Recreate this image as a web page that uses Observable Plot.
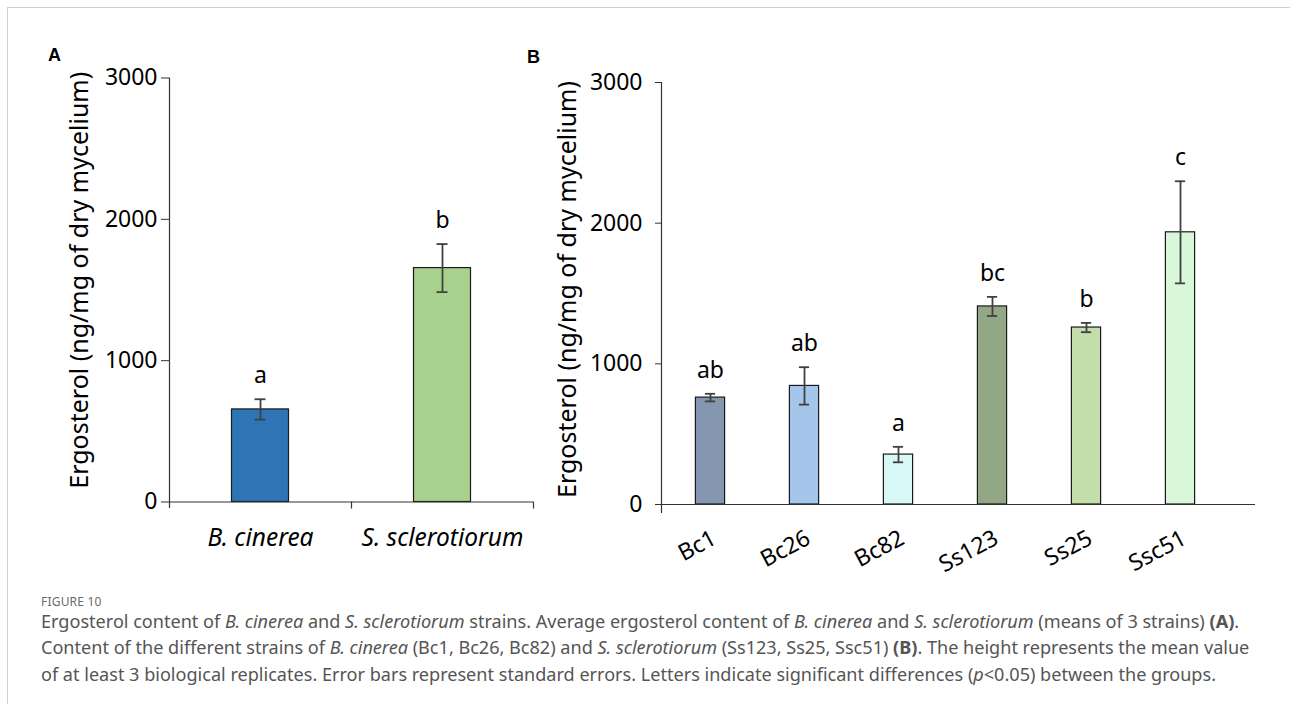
<!DOCTYPE html>
<html>
<head>
<meta charset="utf-8">
<script src="https://cdn.jsdelivr.net/npm/d3@7"></script>
<script src="https://cdn.jsdelivr.net/npm/@observablehq/plot@0.6"></script>
<style>
  html, body { margin: 0; padding: 0; background: #fff; }
  body { width: 1290px; height: 704px; position: relative; overflow: hidden; font-family: "Noto Sans", sans-serif; }
  #border { position: absolute; left: 7px; top: 7px; width: 1320px; height: 740px; border: 1px solid #cfcfcf; box-sizing: border-box; }
  #panelA { position: absolute; left: 0; top: 0; }
  #panelB { position: absolute; left: 540px; top: 0; }
  .plabel { position: absolute; font-family: "Liberation Sans", Arial, sans-serif; font-weight: bold; font-size: 18px; line-height: 18px; color: #000; }
  .cap { position: absolute; left: 41px; white-space: nowrap; color: #555; line-height: 20px; }
  #fig { font-size: 12px; color: #6a6a6a; letter-spacing: 0.2px; }
  .line { font-size: 15.5px; }
</style>
</head>
<body>
<div id="border"></div>
<div class="plabel" style="left:48px; top:46px;">A</div>
<div class="plabel" style="left:527px; top:48px;">B</div>
<div id="panelA"></div>
<div id="panelB"></div>
<div class="cap" id="fig" style="top:592px;">FIGURE 10</div>
<div class="cap line" id="l1" style="top:611px;">Ergosterol content of <i>B. cinerea</i> and <i>S. sclerotiorum</i> strains. Average ergosterol content of <i>B. cinerea</i> and <i>S. sclerotiorum</i> (means of 3 strains) <b>(A)</b>.</div>
<div class="cap line" id="l2" style="top:637px;">Content of the different strains of <i>B. cinerea</i> (Bc1, Bc26, Bc82) and <i>S. sclerotiorum</i> (Ss123, Ss25, Ssc51) <b>(B)</b>. The height represents the mean value</div>
<div class="cap line" id="l3" style="top:664px;">of at least 3 biological replicates. Error bars represent standard errors. Letters indicate significant differences (<i>p</i>&lt;0.05) between the groups.</div>
<script>
// ---- Data ----
const speciesA = ["B. cinerea", "S. sclerotiorum"];
const meanA = [655, 1655];
const seA = [72, 170];
const lettersA = ["a", "b"];
const colorsA = ["#2E75B6", "#A9D18E"];

const strainsB = ["Bc1", "Bc26", "Bc82", "Ss123", "Ss25", "Ssc51"];
const meanB = [760, 843, 355, 1408, 1258, 1935];
const seB = [27, 133, 55, 68, 33, 363];
const lettersB = ["ab", "ab", "a", "bc", "b", "c"];
const colorsB = ["#8496B0", "#A4C6EA", "#D8F8F8", "#93A686", "#C3DEAB", "#D9F8DA"];

const yTicks = [0, 1000, 2000, 3000];
const yLabel = "Ergosterol (ng/mg of dry mycelium)";

const rowsA = speciesA.map((c, i) => ({cat: c, mean: meanA[i], se: seA[i], letter: lettersA[i]}));
const rowsB = strainsB.map((c, i) => ({cat: c, mean: meanB[i], se: seB[i], letter: lettersB[i]}));

const font = "Noto Sans";
const errColor = "#404040";
const fmt = d3.format("d");

// ---- Panel A ----
{
  const W = 540, H = 560, mL = 169, mR = 7, mT = 77.5, mB = 53;
  const step = (W - mL - mR) / speciesA.length;
  const barInset = (step - 57) / 2;
  const capInset = (step - 11) / 2;
  const chart = Plot.plot({
    width: W, height: H,
    marginLeft: mL, marginRight: mR, marginTop: mT, marginBottom: mB,
    x: {domain: speciesA, padding: 0},
    y: {domain: [0, 3000], range: [501.5, 77.5]},
    color: {domain: speciesA, range: colorsA},
    style: {fontFamily: font, color: "#000", background: "transparent", overflow: "visible"},
    marks: [
      Plot.barY(rowsA, {x: "cat", y: "mean", fill: "cat", stroke: "#1a1a1a", strokeWidth: 1.2, insetLeft: barInset, insetRight: barInset}),
      Plot.ruleX(rowsA, {x: "cat", y1: d => d.mean - d.se, y2: d => d.mean + d.se, stroke: errColor, strokeWidth: 1.8}),
      Plot.tickY(rowsA, {x: "cat", y: d => d.mean + d.se, stroke: errColor, strokeWidth: 1.8, insetLeft: capInset, insetRight: capInset}),
      Plot.tickY(rowsA, {x: "cat", y: d => d.mean - d.se, stroke: errColor, strokeWidth: 1.8, insetLeft: capInset, insetRight: capInset}),
      Plot.frame({anchor: "left", stroke: "#333", strokeWidth: 1.2}),
      Plot.ruleY([0], {stroke: "#333", strokeWidth: 1.2}),
      Plot.ruleX(speciesA, {x: d => d, dx: step / 2, y1: 0, y2: 0, insetBottom: -7, stroke: "#333", strokeWidth: 1.2}),
      Plot.axisY({ticks: yTicks, tickFormat: fmt, tickSize: 8, tickPadding: 4, fontSize: 23, label: null, stroke: "#333"}),
      Plot.axisX({tickSize: 0, tickPadding: 21, fontSize: 24.5, fontStyle: "italic", label: null}),
      Plot.text(rowsA, {x: "cat", y: d => d.mean + d.se, text: "letter", lineAnchor: "bottom", dy: -16, fontSize: 23}),
      Plot.text([yLabel], {text: d => d, frameAnchor: "left", textAnchor: "middle", lineAnchor: "middle", rotate: -90, dx: -90, dy: -12.5, fontSize: 25})
    ]
  });
  document.getElementById("panelA").appendChild(chart);
}

// ---- Panel B ----
{
  const W = 750, H = 560, mL = 121, mR = 35, mT = 82, mB = 48;
  const pOuter = 0.133;
  const step = (W - mL - mR) / (strainsB.length + 2 * pOuter);
  const barInset = (step - 30) / 2;
  const capInset = (step - 11) / 2;
  const chart = Plot.plot({
    width: W, height: H,
    marginLeft: mL, marginRight: mR, marginTop: mT, marginBottom: mB,
    x: {domain: strainsB, paddingInner: 0, paddingOuter: pOuter, align: 0.06},
    y: {domain: [0, 3000], range: [504, 82]},
    color: {domain: strainsB, range: colorsB},
    style: {fontFamily: font, color: "#000", background: "transparent", overflow: "visible"},
    marks: [
      Plot.barY(rowsB, {x: "cat", y: "mean", fill: "cat", stroke: "#1a1a1a", strokeWidth: 1.2, insetLeft: barInset, insetRight: barInset}),
      Plot.ruleX(rowsB, {x: "cat", y1: d => d.mean - d.se, y2: d => d.mean + d.se, stroke: errColor, strokeWidth: 1.8}),
      Plot.tickY(rowsB, {x: "cat", y: d => d.mean + d.se, stroke: errColor, strokeWidth: 1.8, insetLeft: capInset, insetRight: capInset}),
      Plot.tickY(rowsB, {x: "cat", y: d => d.mean - d.se, stroke: errColor, strokeWidth: 1.8, insetLeft: capInset, insetRight: capInset}),
      Plot.frame({anchor: "left", stroke: "#333", strokeWidth: 1.2}),
      Plot.ruleY([0], {stroke: "#333", strokeWidth: 1.2}),
      Plot.axisY({ticks: yTicks, tickFormat: fmt, tickSize: 6, tickPadding: 13, fontSize: 23, label: null, stroke: "#333"}),
      Plot.axisX({tickSize: 0, tickPadding: 24, tickRotate: -28, fontSize: 23, dx: 4, label: null}),
      Plot.text(rowsB, {x: "cat", y: d => d.mean + d.se, text: "letter", lineAnchor: "bottom", dy: -16, fontSize: 23}),
      Plot.text([yLabel], {text: d => d, frameAnchor: "left", textAnchor: "middle", lineAnchor: "middle", rotate: -90, dx: -94, dy: -8, fontSize: 25})
    ]
  });
  document.getElementById("panelB").appendChild(chart);
}

// ---- Caption fitting: line 1 spans x 41..1240 in the reference ----
{
  const l1 = document.getElementById("l1");
  const w = l1.getBoundingClientRect().width;
  const target = 1199;
  const fs = 15.5 * target / w;
  document.querySelectorAll(".line").forEach(el => el.style.fontSize = fs.toFixed(2) + "px");
}
</script>
</body>
</html>
